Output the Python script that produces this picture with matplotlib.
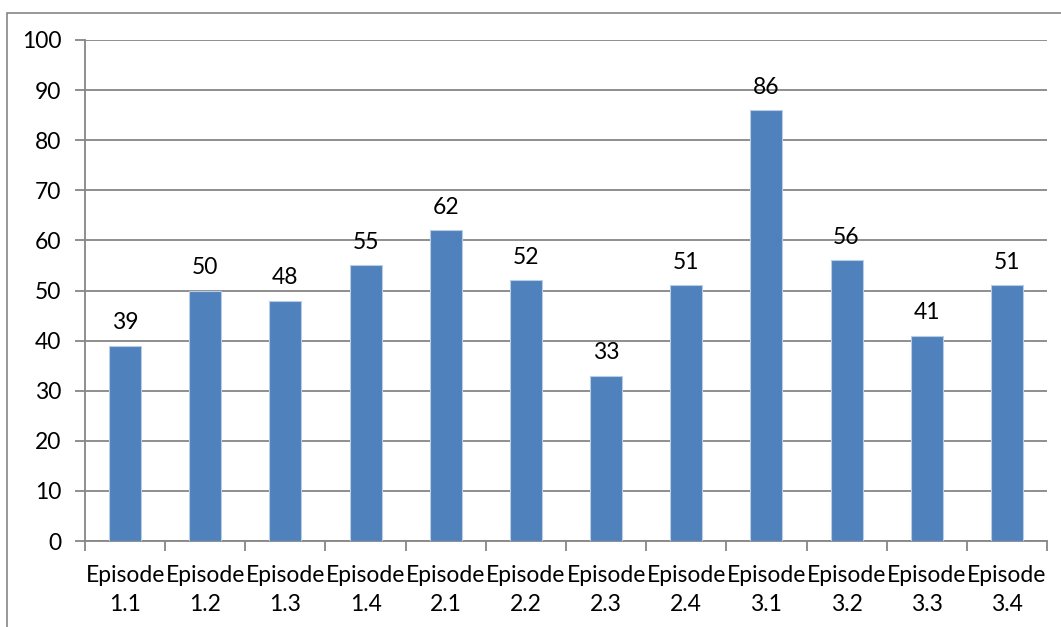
import matplotlib
matplotlib.use("Agg")
import matplotlib.pyplot as plt
from matplotlib.patches import Rectangle
import numpy as np

categories = ["Episode\n1.1", "Episode\n1.2", "Episode\n1.3", "Episode\n1.4",
              "Episode\n2.1", "Episode\n2.2", "Episode\n2.3", "Episode\n2.4",
              "Episode\n3.1", "Episode\n3.2", "Episode\n3.3", "Episode\n3.4"]
values = [39, 50, 48, 55, 62, 52, 33, 51, 86, 56, 41, 51]
y_ticks = [0, 10, 20, 30, 40, 50, 60, 70, 80, 90, 100]

plt.rcParams['font.family'] = ['Lato', 'DejaVu Sans']
FS = 16.5
GRID = "#868686"
BAR = "#4F81BD"

fig = plt.figure(figsize=(10.61, 6.27), dpi=100)
ax = fig.add_axes([85 / 1061, 1 - 541 / 627, (1047 - 85) / 1061, (541 - 40) / 627])

# outer chart frame
fig.patches.append(Rectangle((7 / 1061, -0.05), 1.1, 1 - 13 / 627 + 0.05,
                             transform=fig.transFigure, fill=False,
                             edgecolor=GRID, linewidth=1.2))

x = np.arange(len(values))
bars = ax.bar(x, values, width=0.4, color=BAR, edgecolor="#B9CDE5",
              linewidth=0.8, zorder=3)
for xi, v in zip(x, values):
    ax.annotate(str(v), (xi, v), xytext=(0, 9), textcoords="offset points",
                ha="center", va="bottom", fontsize=FS, color="black")

ax.set_xlim(-0.5, len(values) - 0.5)
ax.set_ylim(0, 100)
ax.set_yticks(y_ticks)
ax.set_yticklabels([str(t) for t in y_ticks], fontsize=FS)
ax.yaxis.grid(True, color=GRID, linewidth=1.3, zorder=0)
ax.set_axisbelow(True)

ax.set_xticks(x)
ax.set_xticklabels(categories, fontsize=FS, linespacing=1.5)
ax.set_xticks(np.arange(len(values) + 1) - 0.5, minor=True)
ax.tick_params(axis="x", which="major", length=0, pad=17)
ax.tick_params(axis="x", which="minor", length=7, width=1.3, color=GRID, direction="out")
ax.tick_params(axis="y", length=7, width=1.3, color=GRID, direction="out", pad=10)

for s in ["top", "right"]:
    ax.spines[s].set_visible(False)
for s in ["left", "bottom"]:
    ax.spines[s].set_color(GRID)
    ax.spines[s].set_linewidth(1.3)

fig.savefig("out.png", dpi=100)
